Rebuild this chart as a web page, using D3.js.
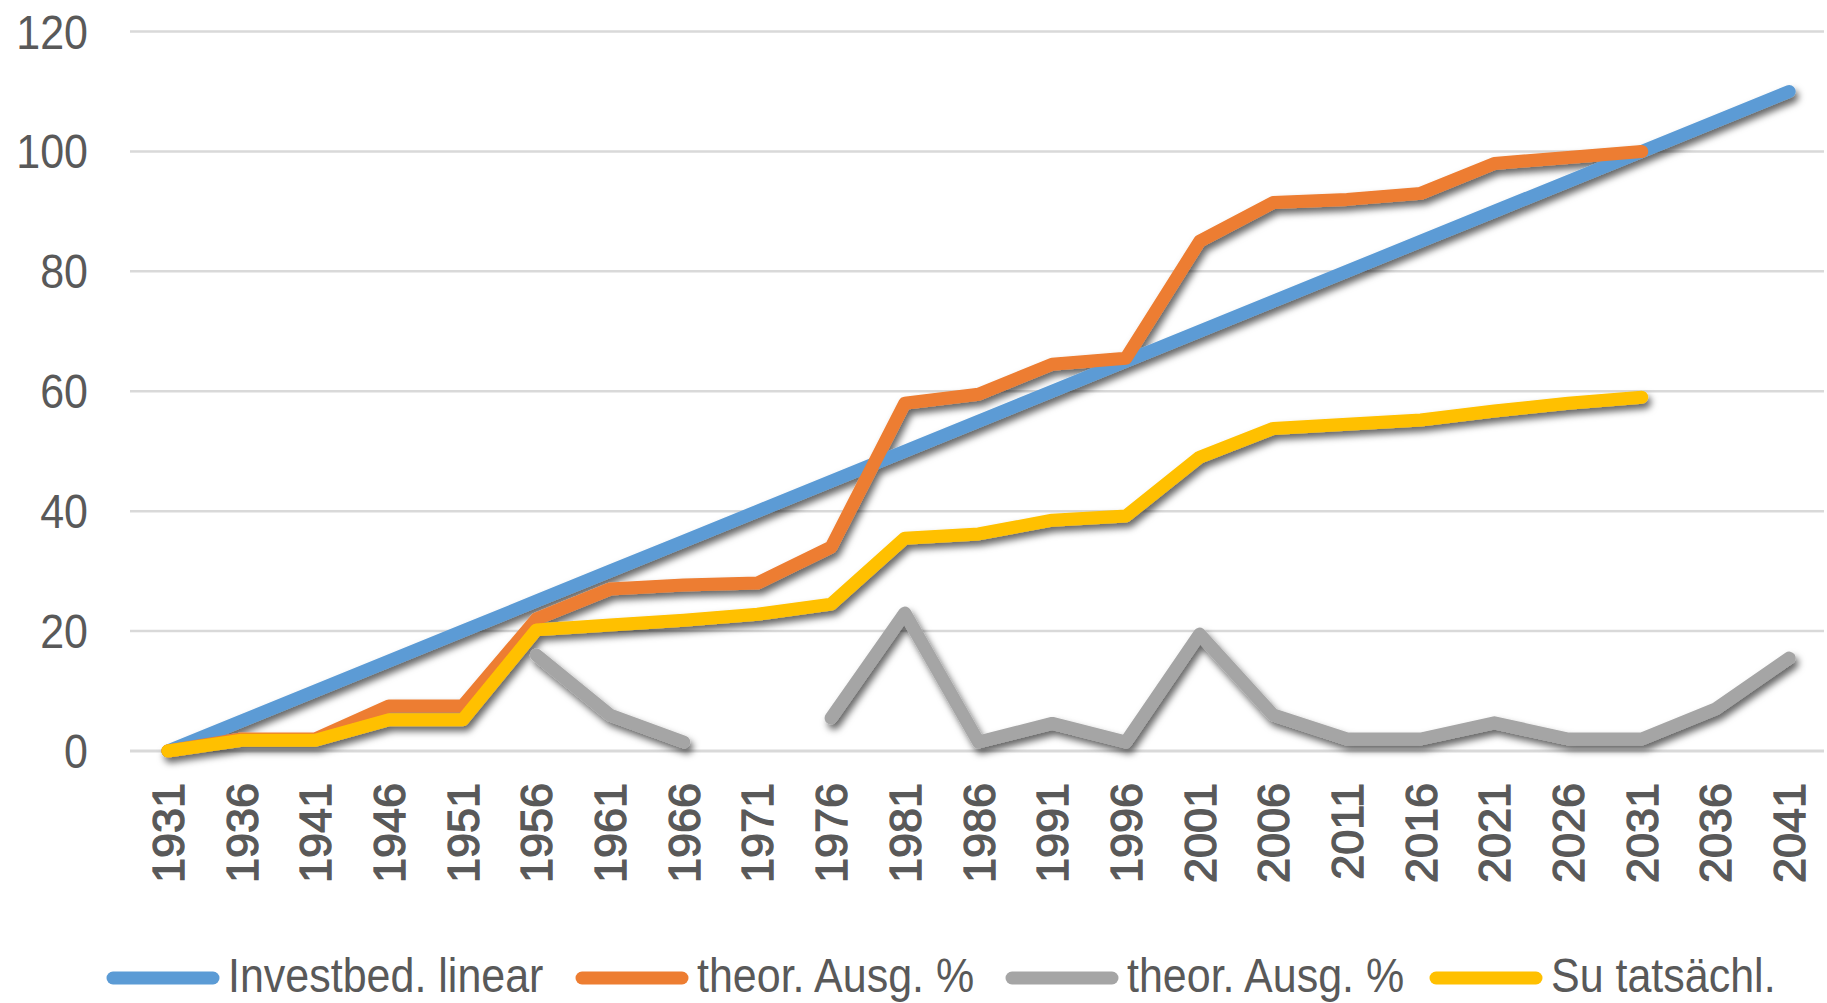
<!DOCTYPE html>
<html><head><meta charset="utf-8">
<script src="https://cdn.jsdelivr.net/npm/d3@7"></script>
<style>body{margin:0;background:#fff;} svg{display:block;}</style>
</head><body>
<svg id="chart" width="1827" height="1003"></svg>
<script>
const years = ["1931","1936","1941","1946","1951","1956","1961","1966","1971","1976","1981","1986","1991","1996","2001","2006","2011","2016","2021","2026","2031","2036","2041"];
const investLinear = [0,5,10,15,20,25,30,35,40,45,50,55,60,65,70,75,80,85,90,95,100,105,110];
const theorAusgA = [0,2,2,7.5,7.5,22,27,27.7,28,34,58,59.5,64.5,65.5,85,91.5,92,93,98,99,100,null,null];
const theorAusgB = [null,null,null,null,null,16,6,1.5,null,5.5,23,1.5,4.6,1.5,19.5,6,2,2,4.7,2,2,7,15.5];
const suTats = [0,1.8,1.8,5.2,5.2,20.2,21,21.8,22.8,24.5,35.5,36.2,38.5,39.2,49,53.8,54.5,55.2,56.7,58,59,null,null];
const yTicks = [0,20,40,60,80,100,120];
const seriesNames = ["Investbed. linear","theor. Ausg. %","theor. Ausg. %","Su tatsächl."];
const seriesColors = ["#5B9BD5","#ED7D31","#A5A5A5","#FFC000"];
const seriesData = [investLinear, theorAusgA, theorAusgB, suTats];

const svg = d3.select("#chart");
const FONT = "'Liberation Sans', Arial, sans-serif";
const plotLeft = 131, plotRight = 1826, plotTop = 31.5, plotBottom = 751;

const x = d3.scalePoint().domain(years).range([plotLeft, plotRight]).padding(0.5);
const y = d3.scaleLinear().domain([0,120]).range([plotBottom, plotTop]);

const defs = svg.append("defs");
const f = defs.append("filter").attr("id","shadow").attr("x","-5%").attr("y","-5%").attr("width","110%").attr("height","120%");
f.append("feDropShadow").attr("dx",3).attr("dy",5).attr("stdDeviation",3.5).attr("flood-color","#000").attr("flood-opacity",0.6);

// gridlines
svg.append("g").selectAll("line").data(yTicks).join("line")
  .attr("x1", plotLeft - 1).attr("x2", plotRight - 2)
  .attr("y1", d => y(d)).attr("y2", d => y(d))
  .attr("stroke", "#d9d9d9").attr("stroke-width", d => d === 0 ? 3 : 2.5);

// y labels
svg.append("g").selectAll("text").data(yTicks).join("text")
  .attr("transform", d => `translate(88,${y(d)}) scale(1,1.1)`)
  .attr("text-anchor","end").attr("dy","0.36em")
  .attr("font-family", FONT).attr("font-size", 43).attr("fill","#595959")
  .text(d => d);

// x labels
svg.append("g").selectAll("text").data(years).join("text")
  .attr("transform", d => `translate(${x(d)+16},783) rotate(-90)`)
  .attr("text-anchor","end")
  .attr("font-family", FONT).attr("font-size", 45).attr("fill","#595959")
  .attr("stroke","#595959").attr("stroke-width",1.3)
  .text(d => d);

// lines
const line = d3.line().defined(d => d.v !== null).x(d => x(d.k)).y(d => y(d.v));
const lg = svg.append("g").attr("filter","url(#shadow)");
seriesData.forEach((arr, i) => {
  const pts = years.map((k, j) => ({k, v: arr[j]}));
  lg.append("path").datum(pts).attr("d", line)
    .attr("fill","none").attr("stroke", seriesColors[i]).attr("stroke-width", 13)
    .attr("stroke-linejoin","round").attr("stroke-linecap","round");
});

// legend
const legendX = [107, 576, 1006, 1430];
const lgd = svg.append("g");
seriesNames.forEach((name, i) => {
  lgd.append("line").attr("x1", legendX[i] + 6).attr("x2", legendX[i] + 106)
    .attr("y1", 978).attr("y2", 978)
    .attr("stroke", seriesColors[i]).attr("stroke-width", 13).attr("stroke-linecap","round");
  lgd.append("text").attr("transform", `translate(${legendX[i] + 121},992) scale(1,1.1)`)
    .attr("font-family", FONT).attr("font-size", 43).attr("fill","#595959")
    .text(name);
});
</script>
</body></html>
